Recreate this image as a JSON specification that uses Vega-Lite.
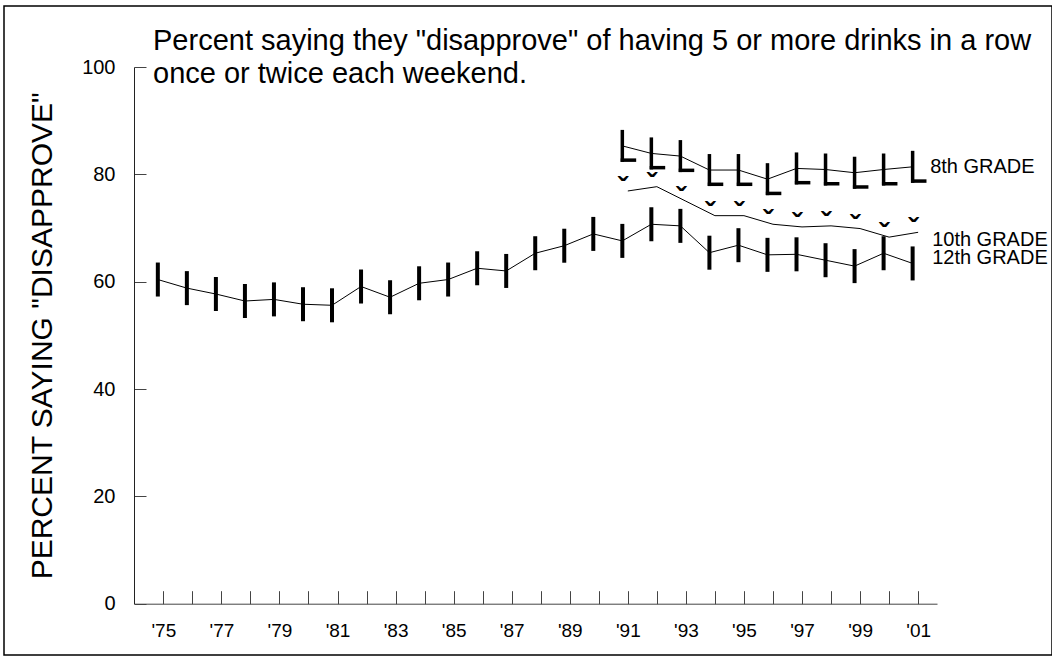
{
  "$schema": "https://vega.github.io/schema/vega-lite/v6.json",
  "width": 1048,
  "height": 649,
  "autosize": {"type": "none"},
  "padding": {"left": 4, "top": 6, "right": 0, "bottom": 7},
  "background": "white",
  "config": {
    "font": "Liberation Sans",
    "view": {"stroke": "#000", "strokeWidth": 1.5},
    "axis": {"grid": false}
  },
  "title": {
    "text": ["Percent saying they \"disapprove\" of having 5 or more drinks in a row", "once or twice each weekend."],
    "anchor": "start",
    "frame": "group",
    "orient": "top",
    "offset": 0,
    "dx": 149,
    "dy": 106,
    "baseline": "alphabetic",
    "fontSize": 29,
    "fontWeight": "normal",
    "lineHeight": 33,
    "color": "#000"
  },
  "data": {
    "values": [
      {"year": 1975, "grade": "12th", "pct": 60.4},
      {"year": 1976, "grade": "12th", "pct": 58.8},
      {"year": 1977, "grade": "12th", "pct": 57.7},
      {"year": 1978, "grade": "12th", "pct": 56.4},
      {"year": 1979, "grade": "12th", "pct": 56.7},
      {"year": 1980, "grade": "12th", "pct": 55.8},
      {"year": 1981, "grade": "12th", "pct": 55.6},
      {"year": 1982, "grade": "12th", "pct": 59.1},
      {"year": 1983, "grade": "12th", "pct": 57.1},
      {"year": 1984, "grade": "12th", "pct": 59.7},
      {"year": 1985, "grade": "12th", "pct": 60.4},
      {"year": 1986, "grade": "12th", "pct": 62.5},
      {"year": 1987, "grade": "12th", "pct": 62.0},
      {"year": 1988, "grade": "12th", "pct": 65.3},
      {"year": 1989, "grade": "12th", "pct": 66.7},
      {"year": 1990, "grade": "12th", "pct": 68.9},
      {"year": 1991, "grade": "12th", "pct": 67.6},
      {"year": 1992, "grade": "12th", "pct": 70.7},
      {"year": 1993, "grade": "12th", "pct": 70.4},
      {"year": 1994, "grade": "12th", "pct": 65.4},
      {"year": 1995, "grade": "12th", "pct": 66.8},
      {"year": 1996, "grade": "12th", "pct": 65.0},
      {"year": 1997, "grade": "12th", "pct": 65.1},
      {"year": 1998, "grade": "12th", "pct": 64.0},
      {"year": 1999, "grade": "12th", "pct": 62.9},
      {"year": 2000, "grade": "12th", "pct": 65.3},
      {"year": 2001, "grade": "12th", "pct": 63.4},
      {"year": 1991, "grade": "10th", "pct": 76.9},
      {"year": 1992, "grade": "10th", "pct": 77.7},
      {"year": 1993, "grade": "10th", "pct": 75.0},
      {"year": 1994, "grade": "10th", "pct": 72.3},
      {"year": 1995, "grade": "10th", "pct": 72.3},
      {"year": 1996, "grade": "10th", "pct": 70.7},
      {"year": 1997, "grade": "10th", "pct": 70.2},
      {"year": 1998, "grade": "10th", "pct": 70.4},
      {"year": 1999, "grade": "10th", "pct": 69.9},
      {"year": 2000, "grade": "10th", "pct": 68.3},
      {"year": 2001, "grade": "10th", "pct": 69.2},
      {"year": 1991, "grade": "8th", "pct": 85.3},
      {"year": 1992, "grade": "8th", "pct": 83.9},
      {"year": 1993, "grade": "8th", "pct": 83.4},
      {"year": 1994, "grade": "8th", "pct": 80.8},
      {"year": 1995, "grade": "8th", "pct": 80.8},
      {"year": 1996, "grade": "8th", "pct": 79.1},
      {"year": 1997, "grade": "8th", "pct": 81.1},
      {"year": 1998, "grade": "8th", "pct": 80.9},
      {"year": 1999, "grade": "8th", "pct": 80.3},
      {"year": 2000, "grade": "8th", "pct": 80.9},
      {"year": 2001, "grade": "8th", "pct": 81.4}
    ]
  },
  "encoding": {
    "x": {
      "field": "year",
      "type": "quantitative",
      "scale": {"domain": [1974, 2001.65], "range": [130.3, 933], "nice": false, "zero": false},
      "axis": {
        "values": [1975, 1976, 1977, 1978, 1979, 1980, 1981, 1982, 1983, 1984, 1985, 1986, 1987, 1988, 1989, 1990, 1991, 1992, 1993, 1994, 1995, 1996, 1997, 1998, 1999, 2000, 2001],
        "labelExpr": "datum.value % 2 == 1 ? \"'\" + substring(toString(datum.value), 2, 4) : ''",
        "offset": -51.3,
        "tickSize": -13,
        "labelPadding": 31,
        "labelFontSize": 19,
        "labelColor": "#000",
        "labelFlush": false,
        "labelOverlap": false,
        "domainColor": "#444",
        "tickColor": "#444",
        "title": null
      }
    },
    "y": {
      "field": "pct",
      "type": "quantitative",
      "scale": {"domain": [0, 100], "range": [597.7, 61], "nice": false},
      "axis": {
        "values": [0, 20, 40, 60, 80, 100],
        "offset": -130,
        "tickSize": -12,
        "labelPadding": 31,
        "labelFontSize": 20,
        "labelColor": "#000",
        "labelFlush": false,
        "domainColor": "#222",
        "tickColor": "#444",
        "title": "PERCENT SAYING \"DISAPPROVE\"",
        "titleFontSize": 30,
        "titleFontWeight": "normal",
        "titleColor": "#000",
        "titleX": -92,
        "titleY": 329.35,
        "titleAngle": 270,
        "titleAlign": "center",
        "titleBaseline": "middle"
      }
    }
  },
  "layer": [
    {
      "transform": [{"filter": "datum.grade == '12th'"}],
      "mark": {"type": "line", "color": "#000", "strokeWidth": 1, "xOffset": -5.5}
    },
    {
      "transform": [{"filter": "datum.grade == '8th'"}],
      "mark": {"type": "line", "color": "#000", "strokeWidth": 1, "xOffset": -5.5}
    },
    {
      "transform": [{"filter": "datum.grade == '10th'"}],
      "mark": {"type": "line", "color": "#000", "strokeWidth": 1}
    },
    {
      "transform": [{"filter": "datum.grade == '12th'"}],
      "mark": {"type": "tick", "orient": "vertical", "color": "#000", "thickness": 4, "size": 34, "opacity": 1, "xOffset": -5.5}
    },
    {
      "transform": [{"filter": "datum.grade == '8th'"}],
      "mark": {"type": "tick", "orient": "vertical", "color": "#000", "thickness": 3.5, "size": 32, "opacity": 1, "xOffset": -5.5}
    },
    {
      "transform": [{"filter": "datum.grade == '8th'"}],
      "mark": {"type": "tick", "orient": "horizontal", "color": "#000", "thickness": 3.5, "size": 15.5, "opacity": 1, "xOffset": 0.6, "yOffset": 14.25}
    },
    {
      "transform": [{"filter": "datum.grade == '10th'"}],
      "mark": {"type": "text", "text": "ˇ", "fontSize": 30, "fontWeight": "bold", "align": "center", "baseline": "alphabetic", "dx": -5, "dy": 7, "color": "#000"}
    },
    {
      "transform": [{"filter": "datum.grade == '8th' && datum.year == 2001"}],
      "mark": {"type": "text", "text": "8th GRADE", "fontSize": 20, "align": "left", "baseline": "middle", "dx": 12, "dy": 0, "color": "#000"}
    },
    {
      "transform": [{"filter": "datum.grade == '10th' && datum.year == 2001"}],
      "mark": {"type": "text", "text": "10th GRADE", "fontSize": 20, "align": "left", "baseline": "middle", "dx": 14, "dy": 8, "color": "#000"}
    },
    {
      "transform": [{"filter": "datum.grade == '12th' && datum.year == 2001"}],
      "mark": {"type": "text", "text": "12th GRADE", "fontSize": 20, "align": "left", "baseline": "middle", "dx": 14, "dy": -5, "color": "#000"}
    }
  ]
}
